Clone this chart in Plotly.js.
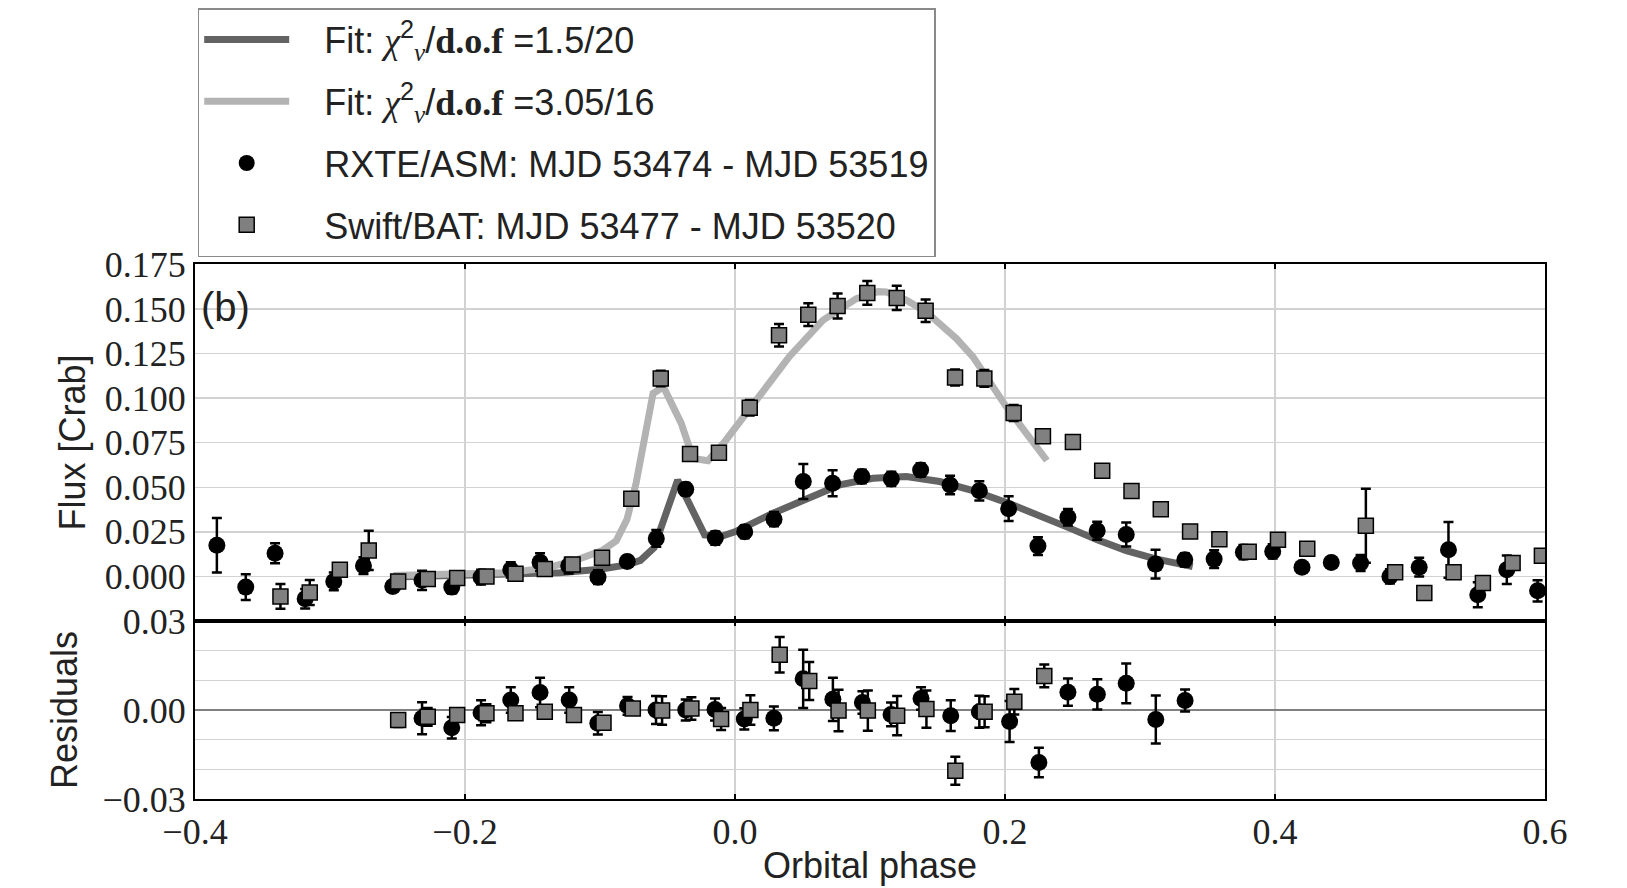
<!DOCTYPE html>
<html><head><meta charset="utf-8">
<script src="https://cdn.plot.ly/plotly-3.0.1.min.js"></script>
<style>html,body{margin:0;padding:0;background:#fff}</style>
</head><body><div id="chart" style="width:1627px;height:888px"></div>
<script>
// RXTE/ASM binned light curve
const rxtePhase = [-0.3838,-0.3624,-0.3407,-0.3184,-0.2972,-0.2752,-0.2535,-0.2318,-0.2098,-0.1881,-0.1661,-0.1444,-0.1232,-0.1015,-0.0798,-0.0583,-0.0365,-0.0146,0.0072,0.0289,0.0506,0.0723,0.0940,0.1158,0.1375,0.1593,0.1810,0.2027,0.2244,0.2466,0.2683,0.2898,0.3115,0.3332,0.3549,0.3766,0.3983,0.4200,0.4417,0.4634,0.4851,0.5068,0.5285,0.5502,0.5717,0.5945];
const rxteFlux = [0.0175,-0.0060,0.0130,-0.0125,-0.0028,0.0060,-0.0056,-0.0022,-0.0060,-0.0004,0.0037,0.0080,0.0060,-0.0004,0.0084,0.0213,0.0489,0.0215,0.0250,0.0321,0.0532,0.0522,0.0560,0.0547,0.0597,0.0513,0.0480,0.0380,0.0170,0.0332,0.0256,0.0235,0.0069,0.0093,0.0097,0.0136,0.0140,0.0052,0.0078,0.0075,0.0000,0.0052,0.0149,-0.0103,0.0037,-0.0081];
const rxteErr = [0.0153,0.0072,0.0056,0.0055,0.0050,0.0047,0.0020,0.0054,0.0036,0.0042,0.0043,0.0050,0.0043,0.0038,0.0030,0.0047,0.0035,0.0037,0.0036,0.0040,0.0098,0.0073,0.0038,0.0040,0.0038,0.0052,0.0054,0.0069,0.0050,0.0046,0.0051,0.0067,0.0081,0.0037,0.0050,0.0040,0.0040,0.0010,0.0030,0.0045,0.0040,0.0052,0.0156,0.0070,0.0080,0.0060];

// Swift/BAT binned light curve
const batPhase = [-0.3367,-0.3150,-0.2927,-0.2713,-0.2495,-0.2276,-0.2058,-0.1841,-0.1626,-0.1409,-0.1203,-0.0985,-0.0768,-0.0550,-0.0333,-0.0119,0.0109,0.0326,0.0543,0.0760,0.0980,0.1198,0.1412,0.1630,0.1847,0.2064,0.2281,0.2503,0.2720,0.2937,0.3154,0.3371,0.3588,0.3805,0.4022,0.4239,0.4673,0.4890,0.5106,0.5323,0.5540,0.5760,0.5977];
const batFlux = [-0.0112,-0.0090,0.0037,0.0146,-0.0028,-0.0015,-0.0009,0.0000,0.0015,0.0041,0.0067,0.0104,0.0435,0.1110,0.0687,0.0694,0.0946,0.1353,0.1468,0.1517,0.1590,0.1562,0.1490,0.1116,0.1110,0.0916,0.0786,0.0754,0.0593,0.0479,0.0377,0.0252,0.0209,0.0138,0.0205,0.0155,0.0284,0.0024,-0.0093,0.0024,-0.0037,0.0075,0.0116];
const batErr = [0.0070,0.0070,0.0035,0.0110,0.0023,0.0030,0.0020,0.0020,0.0020,0.0020,0.0020,0.0020,0.0020,0.0043,0.0020,0.0020,0.0043,0.0063,0.0064,0.0070,0.0066,0.0068,0.0063,0.0045,0.0047,0.0045,0.0020,0.0020,0.0010,0.0010,0.0020,0.0010,0.0020,0.0010,0.0010,0.0010,0.0207,0.0010,0.0010,0.0010,0.0010,0.0010,0.0010];

// Model fits
const fit1Phase = [-0.253,-0.220,-0.190,-0.160,-0.130,-0.100,-0.080,-0.070,-0.060,-0.0425,-0.0225,-0.010,0.000,0.0281,0.0528,0.0775,0.1022,0.1269,0.1516,0.1763,0.2010,0.2244,0.2466,0.2683,0.2898,0.3115,0.3332,0.3390];
const fit1Flux  = [-0.0003,0.0002,0.0006,0.0010,0.0020,0.0040,0.0065,0.0090,0.0160,0.0540,0.0233,0.0225,0.0250,0.0354,0.0438,0.0513,0.0550,0.0560,0.0532,0.0481,0.0415,0.0348,0.0275,0.0205,0.0145,0.0098,0.0062,0.0055];
const fit2Phase = [-0.253,-0.2058,-0.170,-0.1409,-0.120,-0.0985,-0.088,-0.080,-0.0733,-0.0607,-0.053,-0.0398,-0.0311,-0.020,-0.0089,0.0158,0.0405,0.0652,0.0899,0.1060,0.1121,0.1270,0.1417,0.1640,0.1763,0.2010,0.2310];
const fit2Flux  = [0.0005,0.0010,0.0020,0.0045,0.0085,0.0145,0.0200,0.0320,0.0522,0.1026,0.1063,0.0858,0.0662,0.0649,0.0743,0.0989,0.1235,0.1437,0.1558,0.1597,0.1595,0.1549,0.1483,0.1334,0.1231,0.0951,0.0650];

// Residuals
const rxteResPhase = [-0.2318,-0.2098,-0.1881,-0.1661,-0.1444,-0.1228,-0.1016,-0.0796,-0.0585,-0.0365,-0.0148,0.0069,0.0288,0.0505,0.0725,0.0944,0.1156,0.1378,0.1598,0.1810,0.2034,0.2251,0.2466,0.2684,0.2898,0.3117,0.3334];
const rxteRes = [-0.0028,-0.0060,-0.0009,0.0034,0.0059,0.0034,-0.0045,0.0014,0.0000,0.0000,0.0002,-0.0030,-0.0028,0.0105,0.0036,0.0025,-0.0015,0.0039,-0.0019,-0.0006,-0.0039,-0.0177,0.0060,0.0053,0.0090,-0.0032,0.0032];
const rxteResErr = [0.0054,0.0036,0.0042,0.0043,0.0050,0.0043,0.0038,0.0030,0.0047,0.0035,0.0037,0.0036,0.0040,0.0098,0.0073,0.0038,0.0040,0.0038,0.0052,0.0054,0.0069,0.0050,0.0046,0.0051,0.0067,0.0081,0.0037];
const batResPhase = [-0.2495,-0.2276,-0.2058,-0.1841,-0.1626,-0.1409,-0.1193,-0.0974,-0.0757,-0.0540,-0.0323,-0.0103,0.0114,0.0331,0.0550,0.0767,0.0984,0.1201,0.1418,0.1632,0.1849,0.2069,0.2291];
const batRes = [-0.0034,-0.0023,-0.0017,-0.0011,-0.0011,-0.0006,-0.0017,-0.0043,0.0005,-0.0002,0.0005,-0.0030,0.0000,0.0186,0.0098,-0.0002,-0.0002,-0.0019,0.0003,-0.0205,-0.0006,0.0028,0.0115];
const batResErr = [0.0023,0.0030,0.0020,0.0030,0.0020,0.0020,0.0020,0.0020,0.0020,0.0048,0.0038,0.0037,0.0050,0.0060,0.0064,0.0070,0.0068,0.0066,0.0063,0.0047,0.0052,0.0043,0.0038];

// Tick labels
const phaseTicks = [-0.4,-0.2,0.0,0.2,0.4,0.6];
const phaseTickText = ["\u22120.4","\u22120.2","0.0","0.2","0.4","0.6"];
const fluxTicks = [0,0.025,0.05,0.075,0.1,0.125,0.15,0.175];
const fluxTickText = ["0.000","0.025","0.050","0.075","0.100","0.125","0.150","0.175"];
const resTicks = [-0.03,0,0.03];
const resTickText = ["\u22120.03","0.00","0.03"];

const serif = "font-family:Liberation Serif";
const chi = "<i style='" + serif + "'>\u03c7</i><sup>2</sup><sub><i style='" + serif + "'>\u03bd</i></sub>/<b style='" + serif + "'>d.o.f</b>";
const pad = "&nbsp;&nbsp;&nbsp;";
const labels = {
  fit1: pad + "Fit: " + chi + " =1.5/20",
  fit2: pad + "Fit: " + chi + " =3.05/16",
  rxte: pad + "RXTE/ASM: MJD 53474 - MJD 53519",
  bat: pad + "Swift/BAT: MJD 53477 - MJD 53520"
};

const errStyle = (arr) => ({type:'data', array:arr, visible:true, color:'#000', thickness:2.5, width:5});
const circ = {symbol:'circle', size:17, color:'#000', line:{width:0}};
const sq = {symbol:'square', size:15, color:'#808080', line:{width:1.5, color:'#000'}};

const traces = [
  {x:fit1Phase, y:fit1Flux, mode:'lines', name:labels.fit1, legendgroup:'a',
   line:{color:'#636363', width:7}, xaxis:'x', yaxis:'y', hoverinfo:'skip'},
  {x:fit2Phase, y:fit2Flux, mode:'lines', name:labels.fit2, legendgroup:'b',
   line:{color:'#b3b3b3', width:7}, xaxis:'x', yaxis:'y', hoverinfo:'skip'},
  {x:rxtePhase, y:rxteFlux, error_y:errStyle(rxteErr), mode:'markers', name:labels.rxte, legendgroup:'c',
   marker:circ, xaxis:'x', yaxis:'y'},
  {x:batPhase, y:batFlux, error_y:errStyle(batErr), mode:'markers', name:labels.bat, legendgroup:'d',
   marker:sq, xaxis:'x', yaxis:'y'},
  {x:rxteResPhase, y:rxteRes, error_y:errStyle(rxteResErr), mode:'markers', showlegend:false,
   marker:circ, xaxis:'x2', yaxis:'y2'},
  {x:batResPhase, y:batRes, error_y:errStyle(batResErr), mode:'markers', showlegend:false,
   marker:sq, xaxis:'x2', yaxis:'y2'}
];

const tickFont = {family:'Liberation Serif, serif', size:36, color:'#222'};
const titleFont = {family:'Liberation Sans, Arial, sans-serif', size:36, color:'#222'};
const split = 178/535;

const baseX = {
  range:[-0.4,0.6], tickmode:'array', tickvals:phaseTicks, ticktext:phaseTickText,
  showgrid:true, gridcolor:'#d2d2d2', gridwidth:1.5, zeroline:false,
  showline:true, linecolor:'#000', linewidth:2, mirror:'ticks',
  ticks:'inside', ticklen:5, tickwidth:1.5, tickcolor:'#000', tickfont:tickFont
};

const layout = {
  width:1627, height:888,
  margin:{l:195, r:82, t:264, b:89, autoexpand:false},
  paper_bgcolor:'#fff', plot_bgcolor:'#fff',
  font:{family:'Liberation Sans, Arial, sans-serif', color:'#222'},
  showlegend:true,
  xaxis: Object.assign({}, baseX, {anchor:'y', domain:[0,1], showticklabels:false}),
  xaxis2: Object.assign({}, baseX, {anchor:'y2', domain:[0,1], matches:'x', showticklabels:true,
    title:{text:'Orbital phase', font:titleFont, standoff:2}}),
  yaxis: {
    domain:[split,1], anchor:'x', range:[-0.025,0.1752], tickmode:'array',
    tickvals:fluxTicks, ticktext:fluxTickText, tickfont:tickFont,
    showgrid:true, gridcolor:'#d2d2d2', gridwidth:1.5, zeroline:false,
    showline:true, linecolor:'#000', linewidth:2, mirror:true, ticks:'',
    title:{text:'Flux [Crab]', font:titleFont, standoff:8}
  },
  yaxis2: {
    domain:[0,split], anchor:'x2', range:[-0.03,0.03], tickmode:'array',
    tickvals:resTicks, ticktext:resTickText, tickfont:tickFont,
    showgrid:true, gridcolor:'#d2d2d2', gridwidth:1.5,
    minor:{dtick:0.01, tick0:0, showgrid:true, gridcolor:'#d2d2d2', gridwidth:1.5, ticks:''},
    zeroline:true, zerolinecolor:'#808080', zerolinewidth:2.5,
    showline:true, linecolor:'#000', linewidth:2, mirror:true, ticks:'',
    title:{text:'Residuals', font:titleFont, standoff:14}
  },
  legend:{
    x:0.002, y:(799-8)/535, xref:'paper', yref:'paper', xanchor:'left', yanchor:'top',
    bgcolor:'#fff', bordercolor:'#8a8a8a', borderwidth:1.5,
    font:{family:'Liberation Sans, Arial, sans-serif', size:36, color:'#222'},
    itemwidth:85, tracegroupgap:12, traceorder:'grouped', itemsizing:'trace'
  },
  annotations:[
    {text:'(b)', xref:'paper', yref:'paper', x:0.003, y:(799-307)/535, xanchor:'left', yanchor:'middle',
     showarrow:false, font:{family:'Liberation Sans, Arial, sans-serif', size:40, color:'#222'}}
  ]
};

Plotly.newPlot('chart', traces, layout, {displayModeBar:false, staticPlot:true});
</script>
</body></html>
